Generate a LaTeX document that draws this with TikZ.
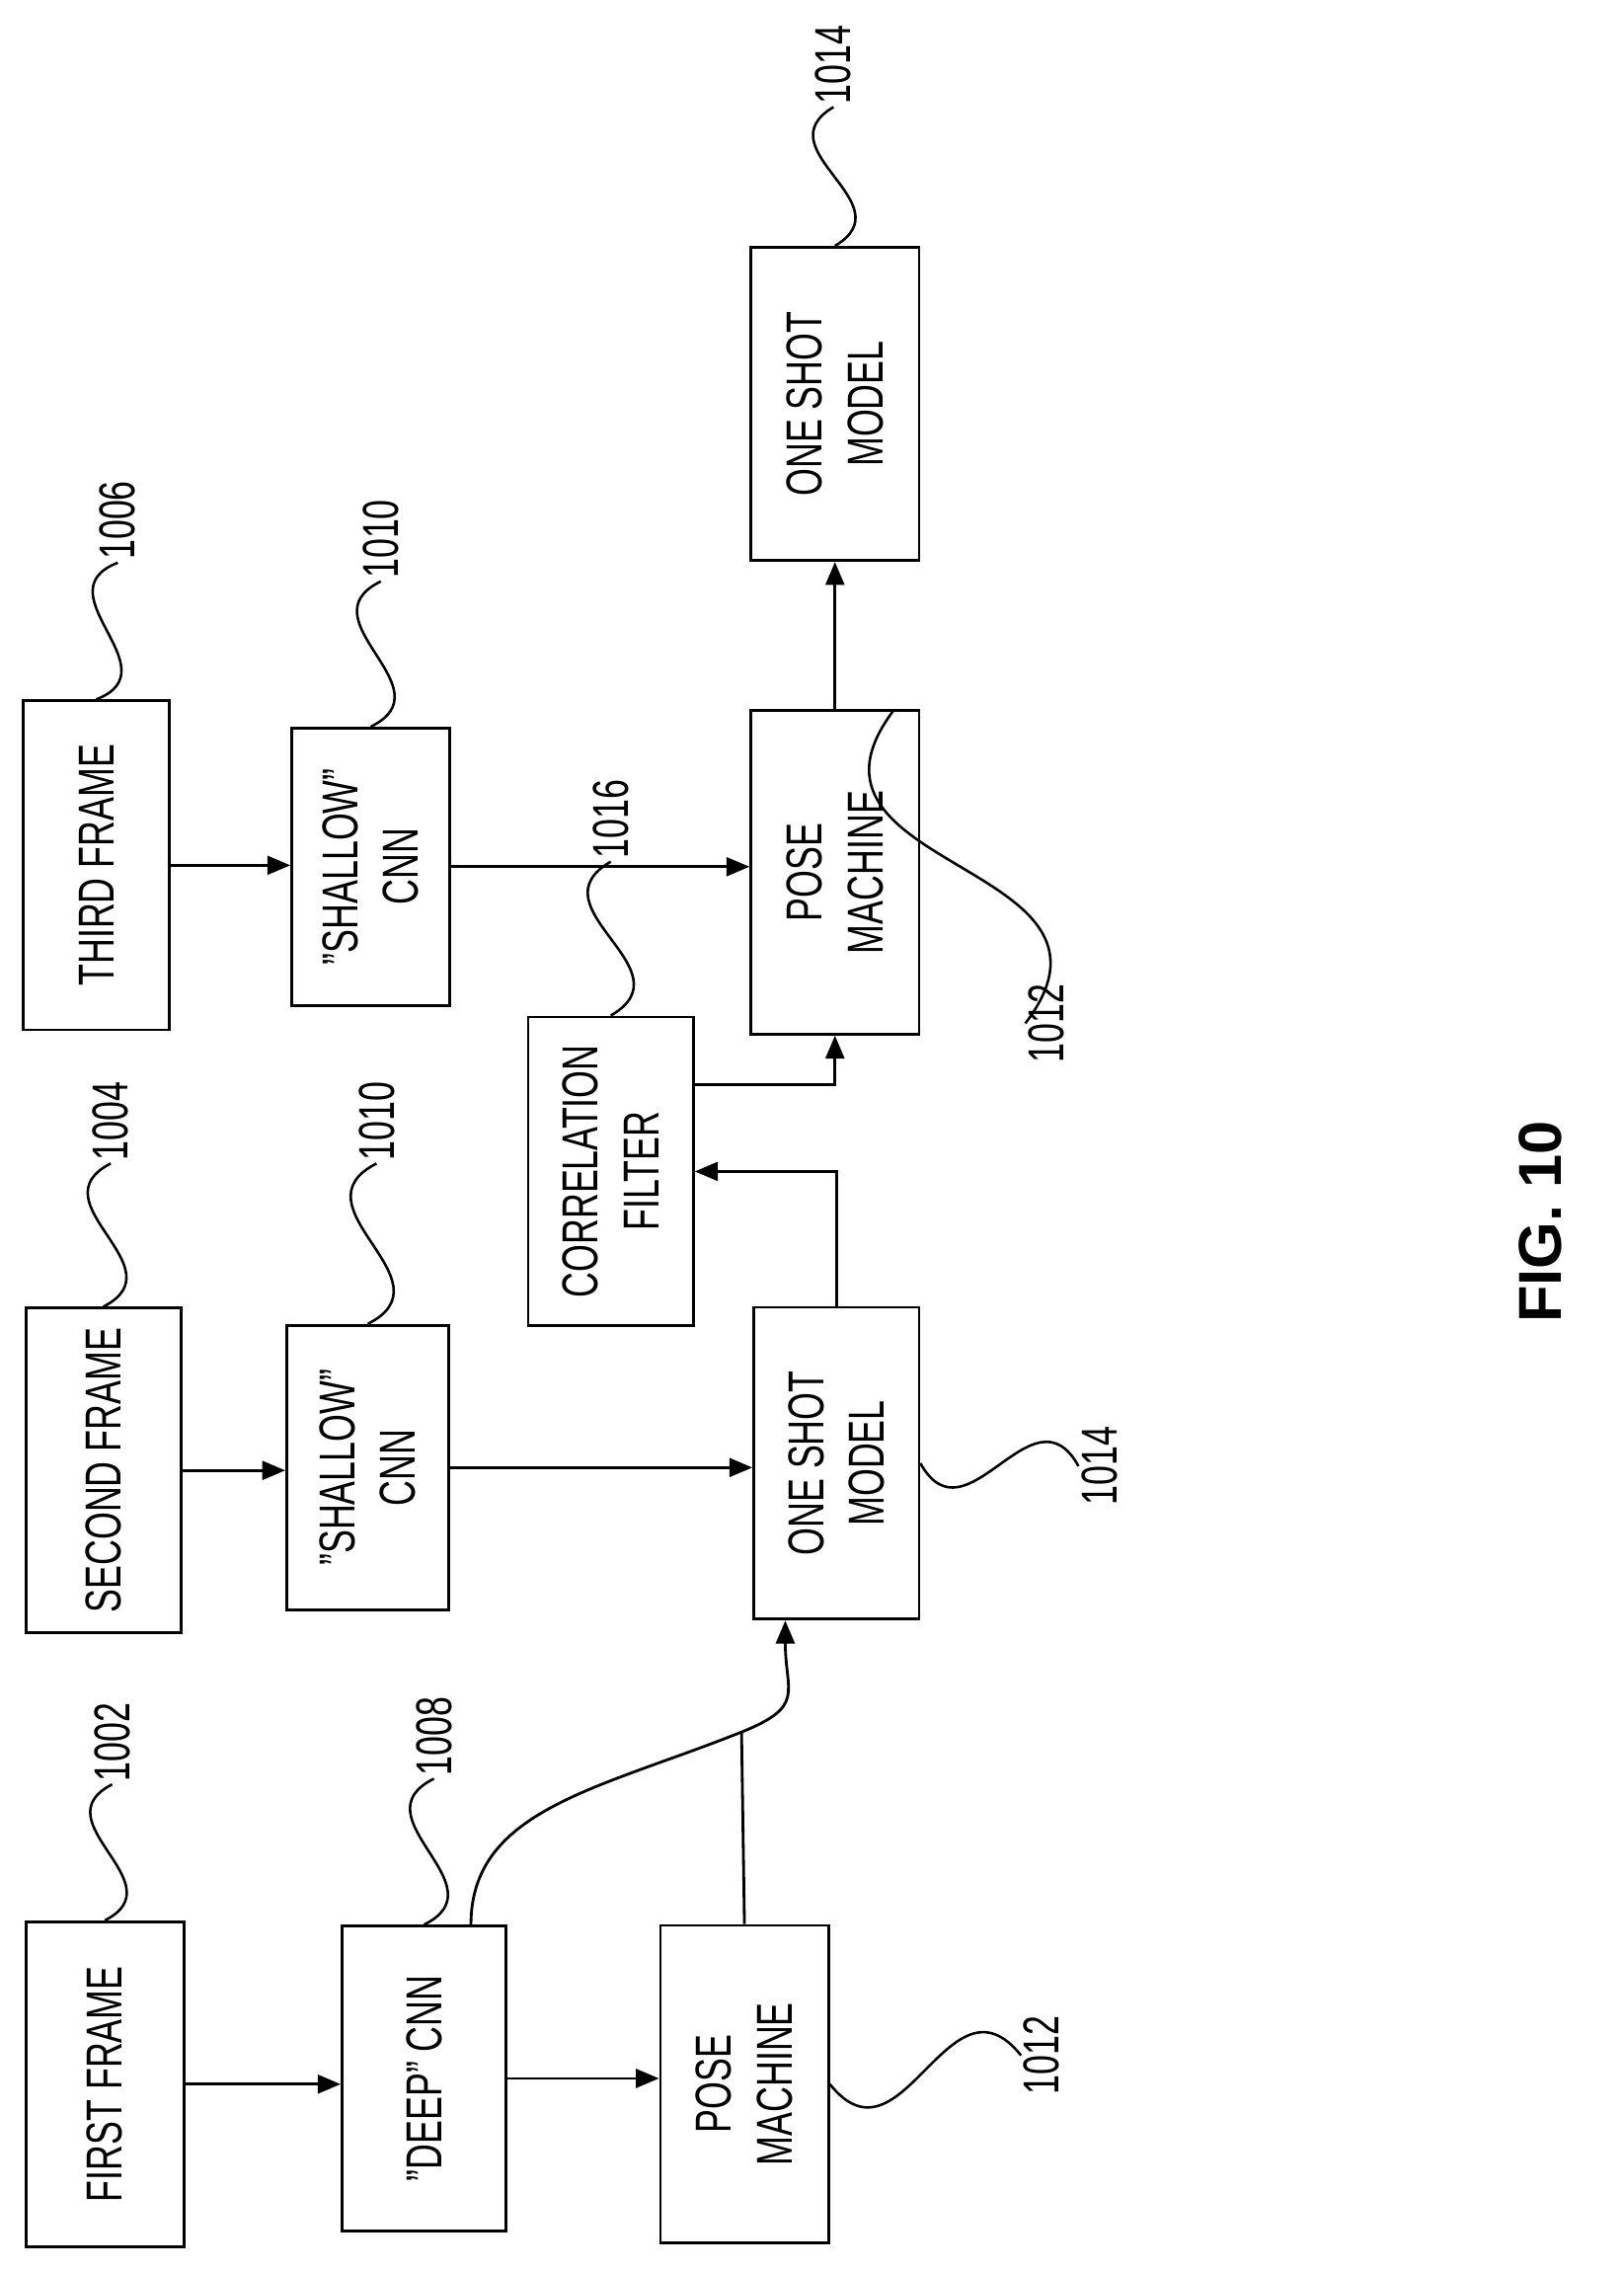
\documentclass[tikz,border=0pt]{standalone}
\usepackage{fontspec}
\setmainfont{Liberation Sans}[FakeStretch=0.7]
\newfontfamily\figfont{Liberation Sans}
\usetikzlibrary{calc}
\usetikzlibrary{arrows.meta}
\tikzset{>={Triangle[length=0.32cm,width=0.26cm]}}
\tikzstyle{box}=[draw,line width=1.1pt,rotate=90,align=center,inner sep=2pt,
  font=\fontsize{20}{24}\selectfont]
\tikzstyle{num}=[rotate=90,inner sep=1pt,font=\fontsize{20}{24}\selectfont]
\tikzstyle{link}=[->,line width=1.1pt]
\tikzstyle{lead}=[line width=1pt]
% S-shaped leader from a box to its number
\newcommand{\leadline}[2]{%
  \draw[lead] (#1) .. controls ($(#1)!0.6!-60:(#2)$) and ($(#2)!0.6!-60:(#1)$) .. (#2);}

\begin{document}
\begin{tikzpicture}[x=0.02cm,y=-0.02cm]
  \useasboundingbox (0,0) rectangle (1130,1580);

  % BOXES
  \node[box,minimum width=4.52cm,minimum height=2.2cm] (first) at (73,1450) {FIRST FRAME};
  \node[box,minimum width=4.24cm,minimum height=2.28cm] (deep) at (295,1446) {"DEEP" CNN};
  \node[box,minimum width=4.42cm,minimum height=2.34cm] (poseL) at (518,1450) {POSE\\MACHINE};
  \node[box,minimum width=4.52cm,minimum height=2.16cm] (second) at (72,1023) {SECOND FRAME};
  \node[box,minimum width=3.96cm,minimum height=2.26cm] (shallowA) at (256,1021) {"SHALLOW"\\CNN};
  \node[box,minimum width=4.34cm,minimum height=2.3cm] (oneM) at (582,1018) {ONE SHOT\\MODEL};
  \node[box,minimum width=4.3cm,minimum height=2.3cm] (corr) at (425,815) {CORRELATION\\FILTER};
  \node[box,minimum width=4.58cm,minimum height=2.04cm] (third) at (67,602) {THIRD FRAME};
  \node[box,minimum width=3.86cm,minimum height=2.2cm] (shallowB) at (258,603) {"SHALLOW"\\CNN};
  \node[box,minimum width=4.5cm,minimum height=2.34cm] (poseR) at (581,607) {POSE\\MACHINE};
  \node[box,minimum width=4.36cm,minimum height=2.34cm] (oneT) at (581,281) {ONE SHOT\\MODEL};

  % CONNECTORS
  \draw[link] (first.south) -- (first.south -| deep.north);
  \draw[link] (deep.south) -- (deep.south -| poseL.north);
  \draw[link] (second.south) -- (second.south -| shallowA.north);
  \draw[link] (shallowA.south) -- (shallowA.south -| oneM.north);
  \draw[link] (third.south) -- (third.south -| shallowB.north);
  \draw[link] (shallowB.south) -- (shallowB.south -| poseR.north);
  \draw[link] (poseR.east) -- (oneT.west);
  \draw[link] (oneM.east) |- (corr.south);
  \draw[link] (corr.-44) -| (poseR.west);
  \coordinate (join) at (516,1205);
  \draw[link] (deep.-17) .. controls +(0,-80) and +(-100,40) .. (join)
    .. controls +(45,-18) and +(0,50) .. (oneM.162);
  \draw[line width=1.1pt] (poseL.east) -- (join);

  % REFERENCE NUMBERS
  \node[num] (n1002) at (78,1212) {1002};
  \node[num] (n1008) at (302,1208) {1008};
  \node[num] (n1012a) at (725,1430) {1012};
  \node[num] (n1004) at (77,780) {1004};
  \node[num] (n1010a) at (262,780) {1010};
  \node[num] (n1014a) at (765,1020) {1014};
  \node[num] (n1006) at (82,362) {1006};
  \node[num] (n1010b) at (265,375) {1010};
  \node[num] (n1016) at (425,570) {1016};
  \node[num] (n1012b) at (728,712) {1012};
  \node[num] (n1014b) at (580,45) {1014};

  % LEADERS
  \leadline{first.east}{n1002.west}
  \leadline{deep.east}{n1008.west}
  \leadline{poseL.south}{n1012a.north}
  \leadline{second.east}{n1004.west}
  \leadline{shallowA.east}{n1010a.west}
  \leadline{oneM.south}{n1014a.north}
  \leadline{third.east}{n1006.west}
  \leadline{shallowB.east}{n1010b.west}
  \leadline{corr.east}{n1016.west}
  \leadline{poseR.-20}{n1012b.north}
  \leadline{oneT.east}{n1014b.west}

  \node[rotate=90,font=\figfont\bfseries\fontsize{24}{28}\selectfont] (fig) at (1072,850) {FIG. 10};
\end{tikzpicture}
\end{document}
